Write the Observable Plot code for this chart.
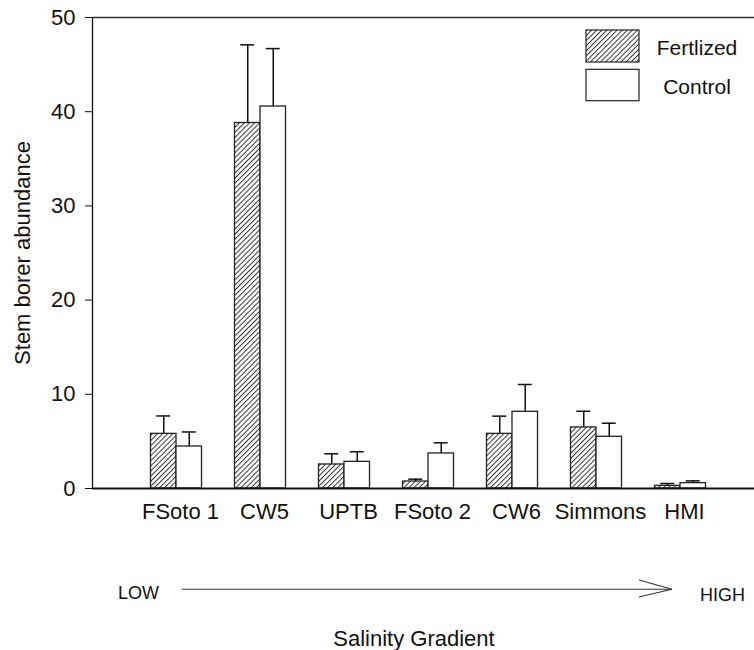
<!DOCTYPE html>
<html><head><meta charset="utf-8">
<script src="https://cdn.jsdelivr.net/npm/d3@7"></script>
<script src="https://cdn.jsdelivr.net/npm/@observablehq/plot@0.6"></script>
<style>body{margin:0;background:#fff}</style>
</head><body><div id="chart"></div>
<script>
const sites = ["FSoto 1", "CW5", "UPTB", "FSoto 2", "CW6", "Simmons", "HMI"];
const fertilized = [5.8, 38.8, 2.55, 0.74, 5.8, 6.48, 0.28];
const fertilizedSE = [1.9, 8.3, 1.13, 0.25, 1.88, 1.72, 0.25];
const control = [4.46, 40.55, 2.83, 3.72, 8.14, 5.49, 0.57];
const controlSE = [1.54, 6.15, 1.07, 1.13, 2.9, 1.44, 0.24];
const yTicks = [0, 10, 20, 30, 40, 50];
const seriesNames = ["Fertlized", "Control"];
const yLabel = "Stem borer abundance";
const xLabel = "Salinity Gradient";
const gradientEnds = ["LOW", "HIGH"];

const rows = sites.flatMap((s, i) => [
  {site: s, pos: i + 1, group: seriesNames[0], side: -1, value: fertilized[i], se: fertilizedSE[i]},
  {site: s, pos: i + 1, group: seriesNames[1], side: 1, value: control[i], se: controlSE[i]}
]);
const fertRows = rows.filter(d => d.side < 0);
const ctrlRows = rows.filter(d => d.side > 0);

const W = 754, H = 650, ML = 92, MT = 17, MB = 162, MR = 0;
const step = 84;                 // pixels per site
const xMax = (W - ML - MR) / step;
const halfBar = 25.5 / step;
const capHalf = 7 / step;
const barX1 = d => d.side < 0 ? d.pos - halfBar : d.pos;
const barX2 = d => d.side < 0 ? d.pos : d.pos + halfBar;
const barXc = d => d.pos + d.side * halfBar / 2;
const errTop = d => d.value + d.se;

const FONT = "'Liberation Sans', Arial, sans-serif";
const NS = "http://www.w3.org/2000/svg";
function el(tag, attrs, parent) {
  const e = document.createElementNS(NS, tag);
  for (const k in attrs) e.setAttribute(k, attrs[k]);
  if (parent) parent.appendChild(e);
  return e;
}

function defsMark() {
  const g = el("g", {});
  const defs = el("defs", {}, g);
  const p = el("pattern", {id: "hatch", patternUnits: "userSpaceOnUse", width: 3.6, height: 3.6, patternTransform: "rotate(45)"}, defs);
  el("rect", {width: 3.6, height: 3.6, fill: "white"}, p);
  el("line", {x1: 0.5, y1: 0, x2: 0.5, y2: 3.6, stroke: "#222", "stroke-width": 0.9}, p);
  return g;
}

function legendMark() {
  const g = el("g", {"font-family": FONT, "font-size": 21});
  const bx = 586, bw = 53, bh = 32;
  const ys = [30, 69.3];
  seriesNames.forEach((name, i) => {
    el("rect", {x: bx, y: ys[i], width: bw, height: bh - (i ? 0.6 : 0), fill: i ? "white" : "url(#hatch)", stroke: "#222", "stroke-width": 1.2}, g);
    const t = el("text", {x: 697, y: ys[i] + 25, "text-anchor": "middle", fill: "#111"}, g);
    t.textContent = name;
  });
  return g;
}

function gradientMark() {
  const g = el("g", {"font-family": FONT, fill: "#111"});
  const ay = 589.3;
  el("line", {x1: 181.7, y1: ay, x2: 672, y2: ay, stroke: "#333", "stroke-width": 1.1}, g);
  el("polyline", {points: `639,580 672,${ay} 639,597`, fill: "none", stroke: "#333", "stroke-width": 1.1}, g);
  const lo = el("text", {x: 118, y: 599, "font-size": 18, "text-anchor": "start"}, g); lo.textContent = gradientEnds[0];
  const hi = el("text", {x: 700, y: 601, "font-size": 18, "text-anchor": "start"}, g); hi.textContent = gradientEnds[1];
  const t = el("text", {x: 414, y: 646, "font-size": 22, "text-anchor": "middle"}, g); t.textContent = xLabel;
  return g;
}

const chart = Plot.plot({
  width: W, height: H,
  marginLeft: ML, marginTop: MT, marginBottom: MB, marginRight: MR,
  style: {fontFamily: FONT, fontSize: "22px", background: "white", color: "#111"},
  x: {domain: [0, xMax]},
  y: {domain: [0, 50]},
  marks: [
    defsMark,
    Plot.ruleY([50], {stroke: "#333", strokeWidth: 1.5}),
    Plot.ruleX([0], {stroke: "#111", strokeWidth: 1.3}),
    Plot.rectY(fertRows, {x1: barX1, x2: barX2, y1: 0, y2: "value", fill: "url(#hatch)", stroke: "#222", strokeWidth: 1.3}),
    Plot.rectY(ctrlRows, {x1: barX1, x2: barX2, y1: 0, y2: "value", fill: "white", stroke: "#222", strokeWidth: 1.3}),
    Plot.ruleX(rows, {x: barXc, y1: "value", y2: errTop, stroke: "#111", strokeWidth: 1.5}),
    Plot.ruleY(rows, {y: errTop, x1: d => barXc(d) - capHalf, x2: d => barXc(d) + capHalf, stroke: "#111", strokeWidth: 1.5}),
    Plot.ruleY([0], {stroke: "#111", strokeWidth: 2}),
    Plot.axisY(yTicks, {tickSize: 7, tickPadding: 10, fontSize: 22, label: null, stroke: "#111"}),
    Plot.axisX(sites.map((d, i) => i + 1), {tickFormat: i => sites[i - 1], tickSize: 0, tickPadding: 15, dx: 4, fontSize: 22, label: null}),
    Plot.text([yLabel], {text: d => d, frameAnchor: "left", textAnchor: "middle", dx: -70, rotate: -90, fontSize: 22}),
    legendMark,
    gradientMark
  ]
});
document.getElementById("chart").appendChild(chart);
</script>
</body></html>
